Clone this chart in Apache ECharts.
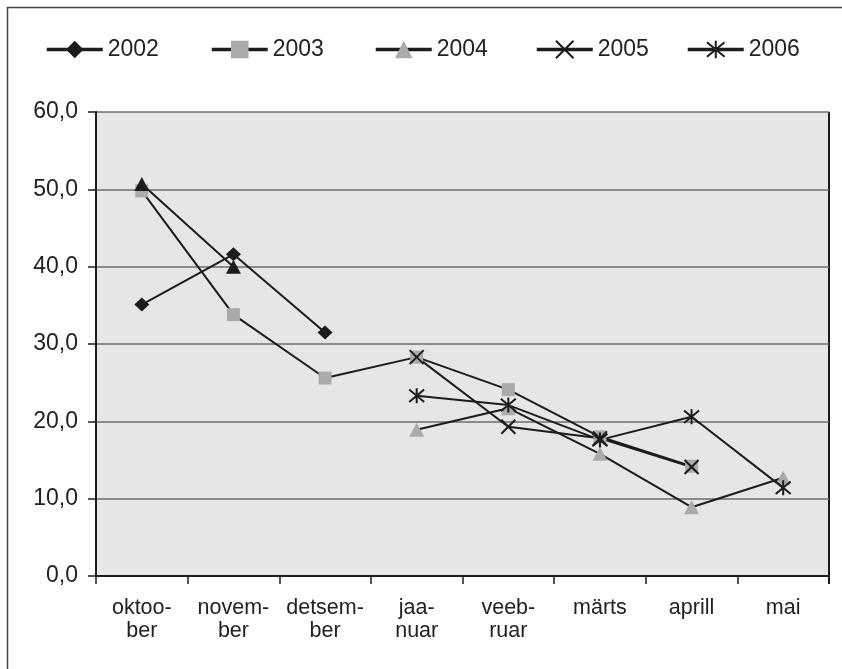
<!DOCTYPE html>
<html>
<head>
<meta charset="utf-8">
<script src="https://cdn.jsdelivr.net/npm/echarts@6/dist/echarts.min.js"></script>
<style>
  html, body { margin: 0; padding: 0; background: #fff; }
  #chart { width: 842px; height: 669px; }
</style>
</head>
<body>
<div id="chart"></div>
<script>
// months (two-line labels, as in the source)
const months = ['oktoo-\nber', 'novem-\nber', 'detsem-\nber', 'jaa-\nnuar', 'veeb-\nruar', 'märts', 'aprill', 'mai']
const yTicks = [0, 10, 20, 30, 40, 50, 60]

const y2002 = [35.1, 41.6, 31.5, null, null, null, null, null]
const y2003 = [49.8, 33.8, 25.6, 28.3, 24.1, 18.0, 14.2, null]
const y2004 = [50.7, 40.0, null, 18.9, 21.7, 15.8, 8.9, 12.7]
const y2005 = [null, null, null, 28.3, 19.3, 17.8, 14.1, null]
const y2006 = [null, null, null, 23.3, 22.1, 17.6, 20.6, 11.4]

const lineCol = '#1c1c1c'
const grayCol = '#a9aaac'
const crossPath = 'path://M0,0L10,10M10,0L0,10'
const starPath = 'path://M0,0L10,10M10,0L0,10M5,-1L5,11'

let chart = echarts.init(document.getElementById('chart'))

function mkSeries (name, data, symbol, size, color, stroke) {
  return {
    name: name,
    type: 'line',
    data: data,
    symbol: symbol,
    symbolSize: size,
    showAllSymbol: true,
    connectNulls: false,
    lineStyle: { color: lineCol, width: 2 },
    itemStyle: stroke
      ? { color: 'rgba(0,0,0,0)', borderColor: lineCol, borderWidth: 2 }
      : { color: color, borderWidth: 0 },
    emphasis: { disabled: true },
    animation: false
  }
}

// first two 2004 points are drawn black in the source
let d2004 = y2004.map((v, i) => (i < 2 ? { value: v, itemStyle: { color: lineCol } } : v))

function mkLegend (name, left) {
  return {
    data: [name],
    left: left,
    top: 38,
    padding: 0,
    itemWidth: 56,
    itemHeight: 22,
    lineStyle: { width: 3.5, color: lineCol },
    textStyle: { fontFamily: 'Liberation Sans', fontSize: 23, color: '#222' },
    selectedMode: false
  }
}

let option = {
  backgroundColor: '#fff',
  textStyle: { fontFamily: 'Liberation Sans' },
  graphic: [{
    type: 'rect',
    left: 5,
    top: 5,
    shape: { width: 900, height: 700 },
    style: { fill: 'none', stroke: '#444', lineWidth: 1.5 },
    silent: true
  }],
  legend: [
    mkLegend('2002', 45),
    mkLegend('2003', 210),
    mkLegend('2004', 374),
    mkLegend('2005', 535),
    mkLegend('2006', 686)
  ],
  grid: {
    left: 96,
    top: 112,
    right: 13,
    bottom: 93,
    show: true,
    backgroundColor: '#e5e6e8',
    borderWidth: 0
  },
  xAxis: {
    type: 'category',
    data: months,
    boundaryGap: true,
    axisLine: { lineStyle: { color: lineCol, width: 2 } },
    axisTick: { show: true, length: 8, inside: false, lineStyle: { color: lineCol, width: 1.5 } },
    axisLabel: {
      interval: 0,
      margin: 21,
      fontSize: 21.5,
      lineHeight: 23,
      color: '#222',
      align: 'center'
    },
    splitLine: { show: false }
  },
  yAxis: {
    type: 'value',
    min: yTicks[0],
    max: yTicks[yTicks.length - 1],
    interval: 10,
    axisLine: { show: true, lineStyle: { color: lineCol, width: 2 } },
    axisTick: { show: true, length: 8, lineStyle: { color: lineCol, width: 1.5 } },
    axisLabel: {
      margin: 18,
      fontSize: 23,
      color: '#222',
      formatter: v => v.toFixed(1).replace('.', ',')
    },
    splitLine: { show: true, lineStyle: { color: '#6c6c6c', width: 1.5 } }
  },
  series: [
    mkSeries('2002', y2002, 'diamond', [15, 14], lineCol, false),
    mkSeries('2003', y2003, 'rect', 13, grayCol, false),
    mkSeries('2004', d2004, 'triangle', [15, 14], grayCol, false),
    mkSeries('2005', y2005, crossPath, 14, lineCol, true),
    mkSeries('2006', y2006, starPath, 15, lineCol, true)
  ]
}

chart.setOption(option)

// right border of the plot area
let gr = chart.getModel().getComponent('grid').coordinateSystem.getRect()
chart.setOption({
  graphic: [option.graphic[0], {
    type: 'line',
    shape: { x1: gr.x + gr.width, y1: gr.y, x2: gr.x + gr.width, y2: gr.y + gr.height + 8 },
    style: { stroke: lineCol, lineWidth: 2 },
    silent: true
  }]
})
</script>
</body>
</html>
